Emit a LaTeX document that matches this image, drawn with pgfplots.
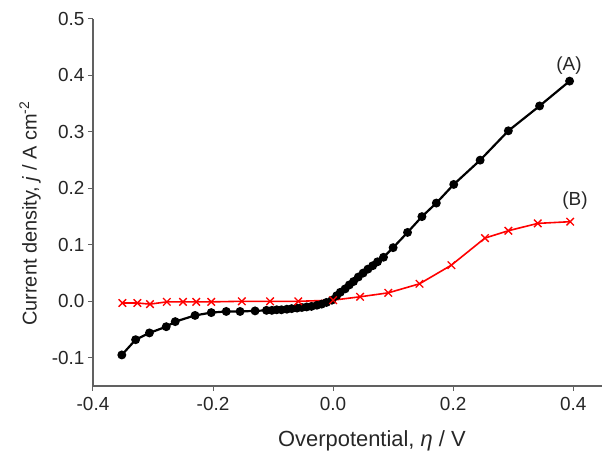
\documentclass[border=0pt]{standalone}
\usepackage{fontspec}
\setmainfont{Liberation Sans}
\usepackage{pgfplots}
\pgfplotsset{compat=1.18}
\begin{document}
\begin{tikzpicture}
\begin{axis}[
  scale only axis, width=509bp, height=367bp,
  xmin=-0.4, xmax=0.448, ymin=-0.15, ymax=0.5,
  axis x line=bottom, axis y line=left,
  axis line style={-, black!62, line width=1.3bp},
  xtick={-0.4,-0.2,0,0.2,0.4},
  ytick={-0.1,0,0.1,0.2,0.3,0.4,0.5},
  tick align=outside, major tick length=5bp,
  tick style={black!62, line width=1bp},
  xticklabel style={yshift=-3bp, /pgf/number format/.cd, fixed, fixed zerofill, precision=1, assume math mode=true},
  yticklabel style={/pgf/number format/.cd, fixed, fixed zerofill, precision=1, assume math mode=true},
  tick label style={font=\fontsize{19}{22}\selectfont, black!85},
  label style={font=\fontsize{20}{24}\selectfont, black!85},
  xlabel={Overpotential, \textit{η} / V},
  ylabel={Current density, \textit{j} / A cm\textsuperscript{-2}},
  xlabel style={at={(rel axis cs:0.548,0)}, yshift=-55bp, anchor=center, font=\fontsize{22}{26}\selectfont},
  ylabel style={at={(rel axis cs:0,0.47)}, yshift=63bp, anchor=center},
  clip=false,
]
\coordinate (SW) at (rel axis cs:0,0);
\coordinate (NE) at (rel axis cs:1,1);
\addplot[black, line width=2.2bp, mark=*, mark size=3.3bp] coordinates {
(-0.352,-0.095)(-0.329,-0.068)(-0.306,-0.056)(-0.278,-0.045)(-0.263,-0.036)
(-0.230,-0.025)(-0.203,-0.020)(-0.178,-0.018)(-0.155,-0.018)(-0.130,-0.017)
(-0.111,-0.016)(-0.102,-0.016)(-0.094,-0.015)(-0.086,-0.015)(-0.077,-0.014)
(-0.069,-0.013)(-0.060,-0.012)(-0.052,-0.011)(-0.044,-0.010)(-0.036,-0.009)
(-0.027,-0.007)(-0.019,-0.005)(-0.011,-0.002)(-0.002,0.002)(0.006,0.010)
(0.012,0.016)(0.020,0.022)(0.027,0.029)(0.034,0.035)(0.042,0.043)
(0.050,0.050)(0.058,0.057)(0.066,0.063)(0.074,0.070)(0.084,0.078)
(0.100,0.095)(0.124,0.122)(0.148,0.150)(0.172,0.174)(0.201,0.207)
(0.245,0.250)(0.292,0.302)(0.344,0.346)(0.394,0.390)
};
\addplot[red, line width=1.6bp, mark=x, mark size=5.3bp, mark options={line width=1.3bp}] coordinates {
(-0.351,-0.003)(-0.326,-0.003)(-0.305,-0.005)(-0.277,-0.001)(-0.250,-0.001)
(-0.228,-0.001)(-0.203,-0.001)(-0.152,0.000)(-0.105,0.000)(-0.058,0.000)
(0.000,0.002)(0.045,0.008)(0.092,0.015)(0.144,0.031)(0.197,0.064)
(0.253,0.112)(0.292,0.125)(0.341,0.138)(0.395,0.141)
};
\node[font=\fontsize{19}{22}\selectfont, black!85] at (axis cs:0.393,0.418) {(A)};
\node[font=\fontsize{19}{22}\selectfont, black!85] at (axis cs:0.403,0.178) {(B)};
\end{axis}
\pgfresetboundingbox
\path ([shift={(-93bp,-67bp)}]SW) rectangle ([shift={(0bp,19bp)}]NE);
\end{tikzpicture}
\end{document}
